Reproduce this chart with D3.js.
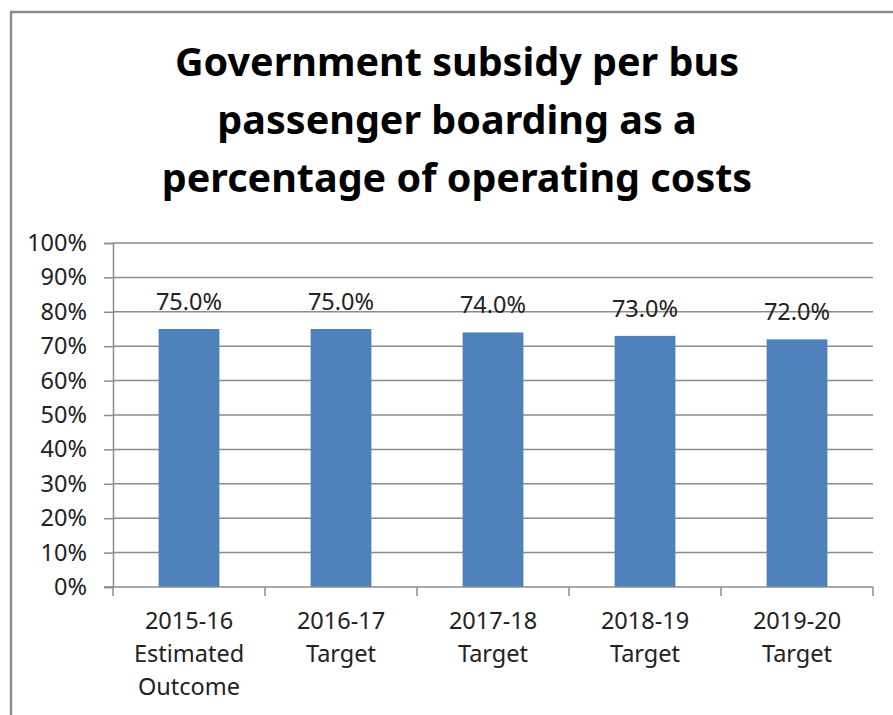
<!DOCTYPE html>
<html lang="en">
<head>
  <meta charset="UTF-8">
  <title>Government subsidy per bus passenger boarding</title>
  <script src="https://d3js.org/d3.v7.min.js"></script>
  <style>
    body { margin: 0; background: #fff; }
    svg { font-family: "Noto Sans", sans-serif; }
  </style>
</head>
<body>
  <div id="chart"></div>
  <script>
    // data
    const categories = [
      ["2015-16", "Estimated", "Outcome"],
      ["2016-17", "Target"],
      ["2017-18", "Target"],
      ["2018-19", "Target"],
      ["2019-20", "Target"]
    ];
    const values = [75.0, 75.0, 74.0, 73.0, 72.0];
    const yTicks = [0, 10, 20, 30, 40, 50, 60, 70, 80, 90, 100];
    const titleLines = ["Government subsidy per bus", "passenger boarding as a", "percentage of operating costs"];

    const W = 893, H = 715;
    const margin = { top: 243, right: 20, bottom: 128, left: 113 };
    const width = W - margin.left - margin.right,
          height = H - margin.top - margin.bottom;

    const svg = d3.select("#chart").append("svg")
      .attr("width", W)
      .attr("height", H);

    // outer chart border
    svg.append("rect")
      .attr("x", 11).attr("y", 12)
      .attr("width", W).attr("height", H)
      .attr("fill", "none")
      .attr("stroke", "#8c8c8c")
      .attr("stroke-width", 2.5);

    // title
    svg.append("text")
      .attr("text-anchor", "middle")
      .attr("font-weight", "bold")
      .attr("font-size", 39.5)
      .attr("fill", "#000")
      .selectAll("tspan")
      .data(titleLines)
      .join("tspan")
      .attr("x", 457)
      .attr("y", (d, i) => 76 + i * 58)
      .text(d => d);

    const g = svg.append("g")
      .attr("transform", `translate(${margin.left},${margin.top})`);

    const x = d3.scaleBand()
      .domain(d3.range(categories.length))
      .range([0, width])
      .paddingInner(0.6)
      .paddingOuter(0.3);

    const y = d3.scaleLinear()
      .domain([0, 100])
      .range([height, 0]);

    // gridlines + y axis
    const yAxis = g.append("g")
      .call(d3.axisLeft(y).tickValues(yTicks).tickFormat(d => d + "%").tickSize(9).tickPadding(17));
    yAxis.select(".domain").attr("stroke", "#8c8c8c").attr("stroke-width", 1.5);
    yAxis.selectAll(".tick line").attr("stroke", "#8c8c8c").attr("stroke-width", 1.5);
    yAxis.selectAll(".tick text")
      .attr("font-size", 23.5)
      .attr("fill", "#222")
      .attr("font-family", "Noto Sans, sans-serif");

    g.append("g")
      .selectAll("line")
      .data(yTicks.filter(d => d > 0))
      .join("line")
      .attr("x1", 0).attr("x2", width)
      .attr("y1", d => y(d)).attr("y2", d => y(d))
      .attr("stroke", "#8c8c8c")
      .attr("stroke-width", 1.5);

    // bars
    g.selectAll("rect.bar")
      .data(values)
      .join("rect")
      .attr("class", "bar")
      .attr("x", (d, i) => x(i))
      .attr("y", d => y(d))
      .attr("width", x.bandwidth())
      .attr("height", d => height - y(d))
      .attr("fill", "#4f81bd");

    // value labels
    g.selectAll("text.val")
      .data(values)
      .join("text")
      .attr("class", "val")
      .attr("x", (d, i) => x(i) + x.bandwidth() / 2)
      .attr("y", d => y(d) - 19)
      .attr("text-anchor", "middle")
      .attr("font-size", 23.5)
      .attr("fill", "#222")
      .text(d => d.toFixed(1) + "%");

    // x axis baseline and ticks between categories
    const step = width / categories.length;
    g.append("line")
      .attr("x1", -9).attr("x2", width)
      .attr("y1", height).attr("y2", height)
      .attr("stroke", "#8c8c8c").attr("stroke-width", 1.5);
    g.append("g")
      .selectAll("line")
      .data(d3.range(categories.length + 1))
      .join("line")
      .attr("x1", d => d * step).attr("x2", d => d * step)
      .attr("y1", height).attr("y2", height + 9)
      .attr("stroke", "#8c8c8c").attr("stroke-width", 1.5);

    // category labels
    g.selectAll("text.cat")
      .data(categories)
      .join("text")
      .attr("class", "cat")
      .attr("text-anchor", "middle")
      .attr("font-size", 23.5)
      .attr("fill", "#222")
      .selectAll("tspan")
      .data((d, i) => d.map(s => ({ s, i })))
      .join("tspan")
      .attr("x", d => x(d.i) + x.bandwidth() / 2)
      .attr("y", (d, j) => height + 42 + j * 33)
      .text(d => d.s);
  </script>
</body>
</html>
